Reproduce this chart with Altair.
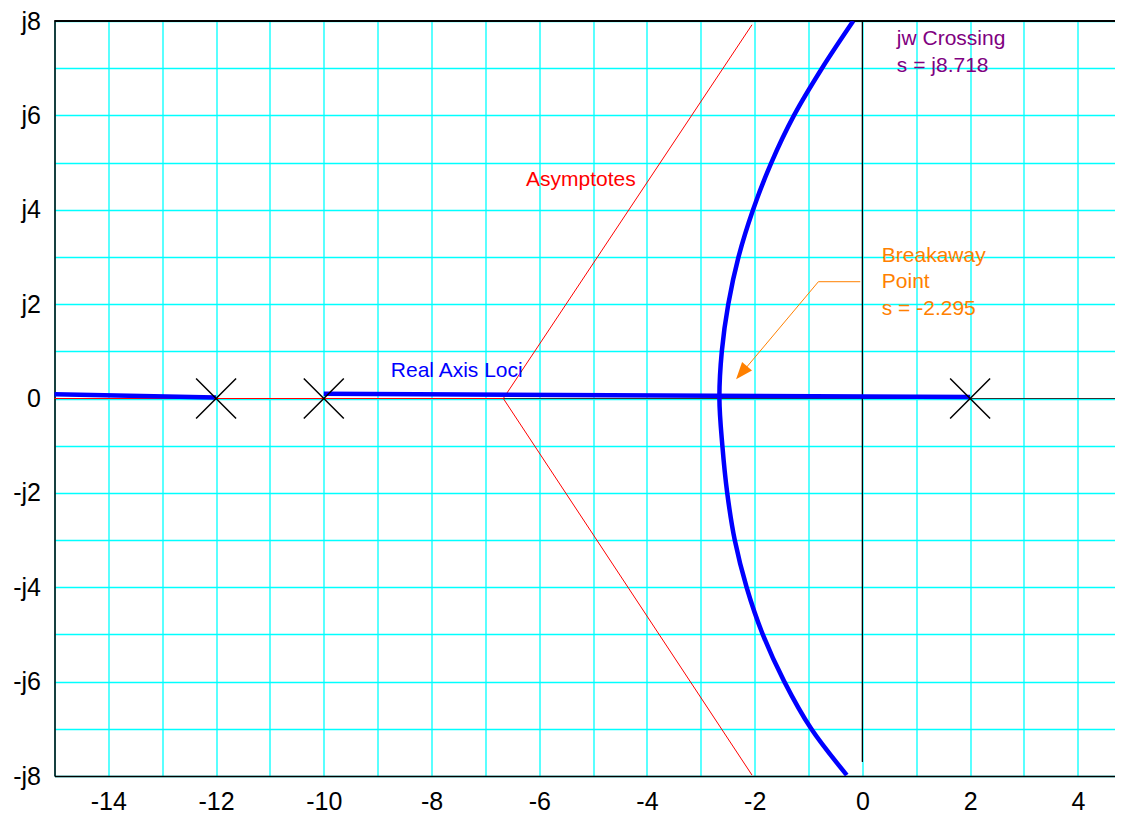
import altair as alt
import pandas as pd

# ---- data ----
# poles (X markers)
pole_re = [-12, -10, 2]
pole_im = [0, 0, 0]

# root-locus branch leaving the real axis (top to bottom)
curve_re = [-0.17, -0.75, -1.27, -1.69, -2.03, -2.30, -2.49, -2.61, -2.655,
            -2.60, -2.51, -2.37, -2.15, -1.85, -1.45, -0.95, -0.29]
curve_im = [8.0, 7.0, 6.0, 5.0, 4.0, 3.0, 2.0, 1.0, 0.0,
            -1.0, -2.0, -3.0, -4.0, -5.0, -6.0, -7.0, -7.98]

# real-axis loci segments (blue)
loci_seg = ["a", "a", "b", "b"]
loci_re = [-15, -12, -10, 2]
loci_im = [0.09, 0.02, 0.10, 0.03]

# asymptotes (red)
asym_seg = ["up", "up", "dn", "dn", "ax", "ax"]
asym_re = [-6.667, -2.05, -6.667, -2.05, -15, -6.667]
asym_im = [0, 7.92, 0, -7.98, 0, 0]

# breakaway arrow (orange)
arrow_re = [-0.04, -0.817, -2.30]
arrow_im = [2.475, 2.475, 0.46]
arrow_tip_re = [-2.345]
arrow_tip_im = [0.407]

# annotations
note_text = ["Real Axis Loci", "Asymptotes", "Breakaway", "Point", "s = -2.295",
             "jw Crossing", "s = j8.718"]
note_re = [-8.756, -6.244, 0.36, 0.36, 0.36, 0.64, 0.64]
note_im = [0.46, 4.503, 2.90, 2.335, 1.77, 7.49, 6.925]
note_group = ["loci", "asym", "brk", "brk", "brk", "jw", "jw"]

# axis ticks
x_grid = list(range(-15, 5))
y_grid = list(range(-8, 9))
x_tick_values = [-14, -12, -10, -8, -6, -4, -2, 0, 2, 4]
x_tick_labels = ["-14", "-12", "-10", "-8", "-6", "-4", "-2", "0", "2", "4"]
y_tick_values = [-8, -6, -4, -2, 0, 2, 4, 6, 8]
y_tick_labels = ["-j8", "-j6", "-j4", "-j2", "0", "j2", "j4", "j6", "j8"]


def label_expr(values, labels):
    expr = "''"
    for v, l in zip(values, labels):
        expr = f"datum.value == {v} ? '{l}' : ({expr})"
    return expr


FONT = "Liberation Sans"
xs = alt.Scale(domain=[-15, 4.69], nice=False, zero=False)
ys = alt.Scale(domain=[-8, 8], nice=False, zero=False)

curve_df = pd.DataFrame({"re": curve_re, "im": curve_im, "i": range(len(curve_re))})
loci_df = pd.DataFrame({"re": loci_re, "im": loci_im, "seg": loci_seg,
                        "i": range(len(loci_re))})
asym_df = pd.DataFrame({"re": asym_re, "im": asym_im, "seg": asym_seg,
                        "i": range(len(asym_re))})
pole_df = pd.DataFrame({"re": pole_re, "im": pole_im})
arrow_df = pd.DataFrame({"re": arrow_re, "im": arrow_im, "i": range(len(arrow_re))})
tip_df = pd.DataFrame({"re": arrow_tip_re, "im": arrow_tip_im})
note_df = pd.DataFrame({"t": note_text, "re": note_re, "im": note_im, "g": note_group})

x_axis = alt.Axis(values=x_grid, labelExpr=label_expr(x_tick_values, x_tick_labels),
                  grid=True, gridColor="#00ffff", gridWidth=1.3, ticks=False,
                  domainColor="black", domainWidth=1.5, labelFont=FONT,
                  labelFontSize=25, labelColor="black", labelPadding=13,
                  labelOverlap=False, labelBound=False, title=None)
y_axis = alt.Axis(values=y_grid, labelExpr=label_expr(y_tick_values, y_tick_labels),
                  grid=True, gridColor="#00ffff", gridWidth=1.3, ticks=False,
                  domainColor="black", domainWidth=1.5, labelFont=FONT,
                  labelFontSize=25, labelColor="black", labelPadding=14,
                  labelOverlap=False, labelBound=False, title=None)

# base layer carrying the axes / grid
base = alt.Chart(pole_df).mark_point(opacity=0).encode(
    x=alt.X("re:Q", scale=xs, axis=x_axis),
    y=alt.Y("im:Q", scale=ys, axis=y_axis),
)

h_axis = alt.Chart(pole_df).mark_rule(color="#333333", strokeWidth=1).encode(
    y=alt.datum(0, scale=ys))
v_axis = alt.Chart(pole_df).mark_rule(color="black", strokeWidth=1).encode(
    x=alt.datum(0, scale=xs), y=alt.datum(8, scale=ys), y2=alt.datum(-7.7))
top_border = alt.Chart(pole_df).mark_rule(color="black", strokeWidth=1.5).encode(
    y=alt.datum(8, scale=ys))

asym = alt.Chart(asym_df).mark_line(color="#ff0000", strokeWidth=1).encode(
    x=alt.X("re:Q", scale=xs), y=alt.Y("im:Q", scale=ys),
    detail="seg:N", order="i:Q")

loci = alt.Chart(loci_df).mark_line(color="#0000ff", strokeWidth=4.5).encode(
    x=alt.X("re:Q", scale=xs), y=alt.Y("im:Q", scale=ys),
    detail="seg:N", order="i:Q")

curve = alt.Chart(curve_df).mark_line(color="#0000ff", strokeWidth=4.5,
                                      interpolate="catmull-rom", clip=True).encode(
    x=alt.X("re:Q", scale=xs), y=alt.Y("im:Q", scale=ys), order="i:Q")

poles = alt.Chart(pole_df).mark_point(
    shape="M-1,-1L1,1M-1,1L1,-1", size=1600, filled=False, color="black",
    strokeWidth=1.5, opacity=1).encode(
    x=alt.X("re:Q", scale=xs), y=alt.Y("im:Q", scale=ys))

arrow_line = alt.Chart(arrow_df).mark_line(color="#ff8000", strokeWidth=1).encode(
    x=alt.X("re:Q", scale=xs), y=alt.Y("im:Q", scale=ys), order="i:Q")
arrow_head = alt.Chart(tip_df).mark_point(
    shape="M0,0L0.38,1L-0.38,1Z", size=1156, filled=True, color="#ff8000",
    angle=220, opacity=1, strokeWidth=0).encode(
    x=alt.X("re:Q", scale=xs), y=alt.Y("im:Q", scale=ys))

notes = alt.Chart(note_df).mark_text(
    font=FONT, fontSize=21, align="left", baseline="alphabetic").encode(
    x=alt.X("re:Q", scale=xs), y=alt.Y("im:Q", scale=ys), text="t:N",
    color=alt.Color("g:N", scale=alt.Scale(
        domain=["loci", "asym", "brk", "jw"],
        range=["#0000ff", "#ff0000", "#ff8000", "#800080"]), legend=None))

chart = alt.layer(base, h_axis, v_axis, top_border, asym, loci, curve, poles,
                  arrow_line, arrow_head, notes).properties(
    width=1060.5, height=755,
    autosize=alt.AutoSizeParams(type="none"),
    padding={"left": 46.5, "top": 13, "right": 0, "bottom": 40},
    background="white",
).configure_view(stroke=None)

chart.save("out.html", embed_options={"renderer": "svg", "actions": False})
